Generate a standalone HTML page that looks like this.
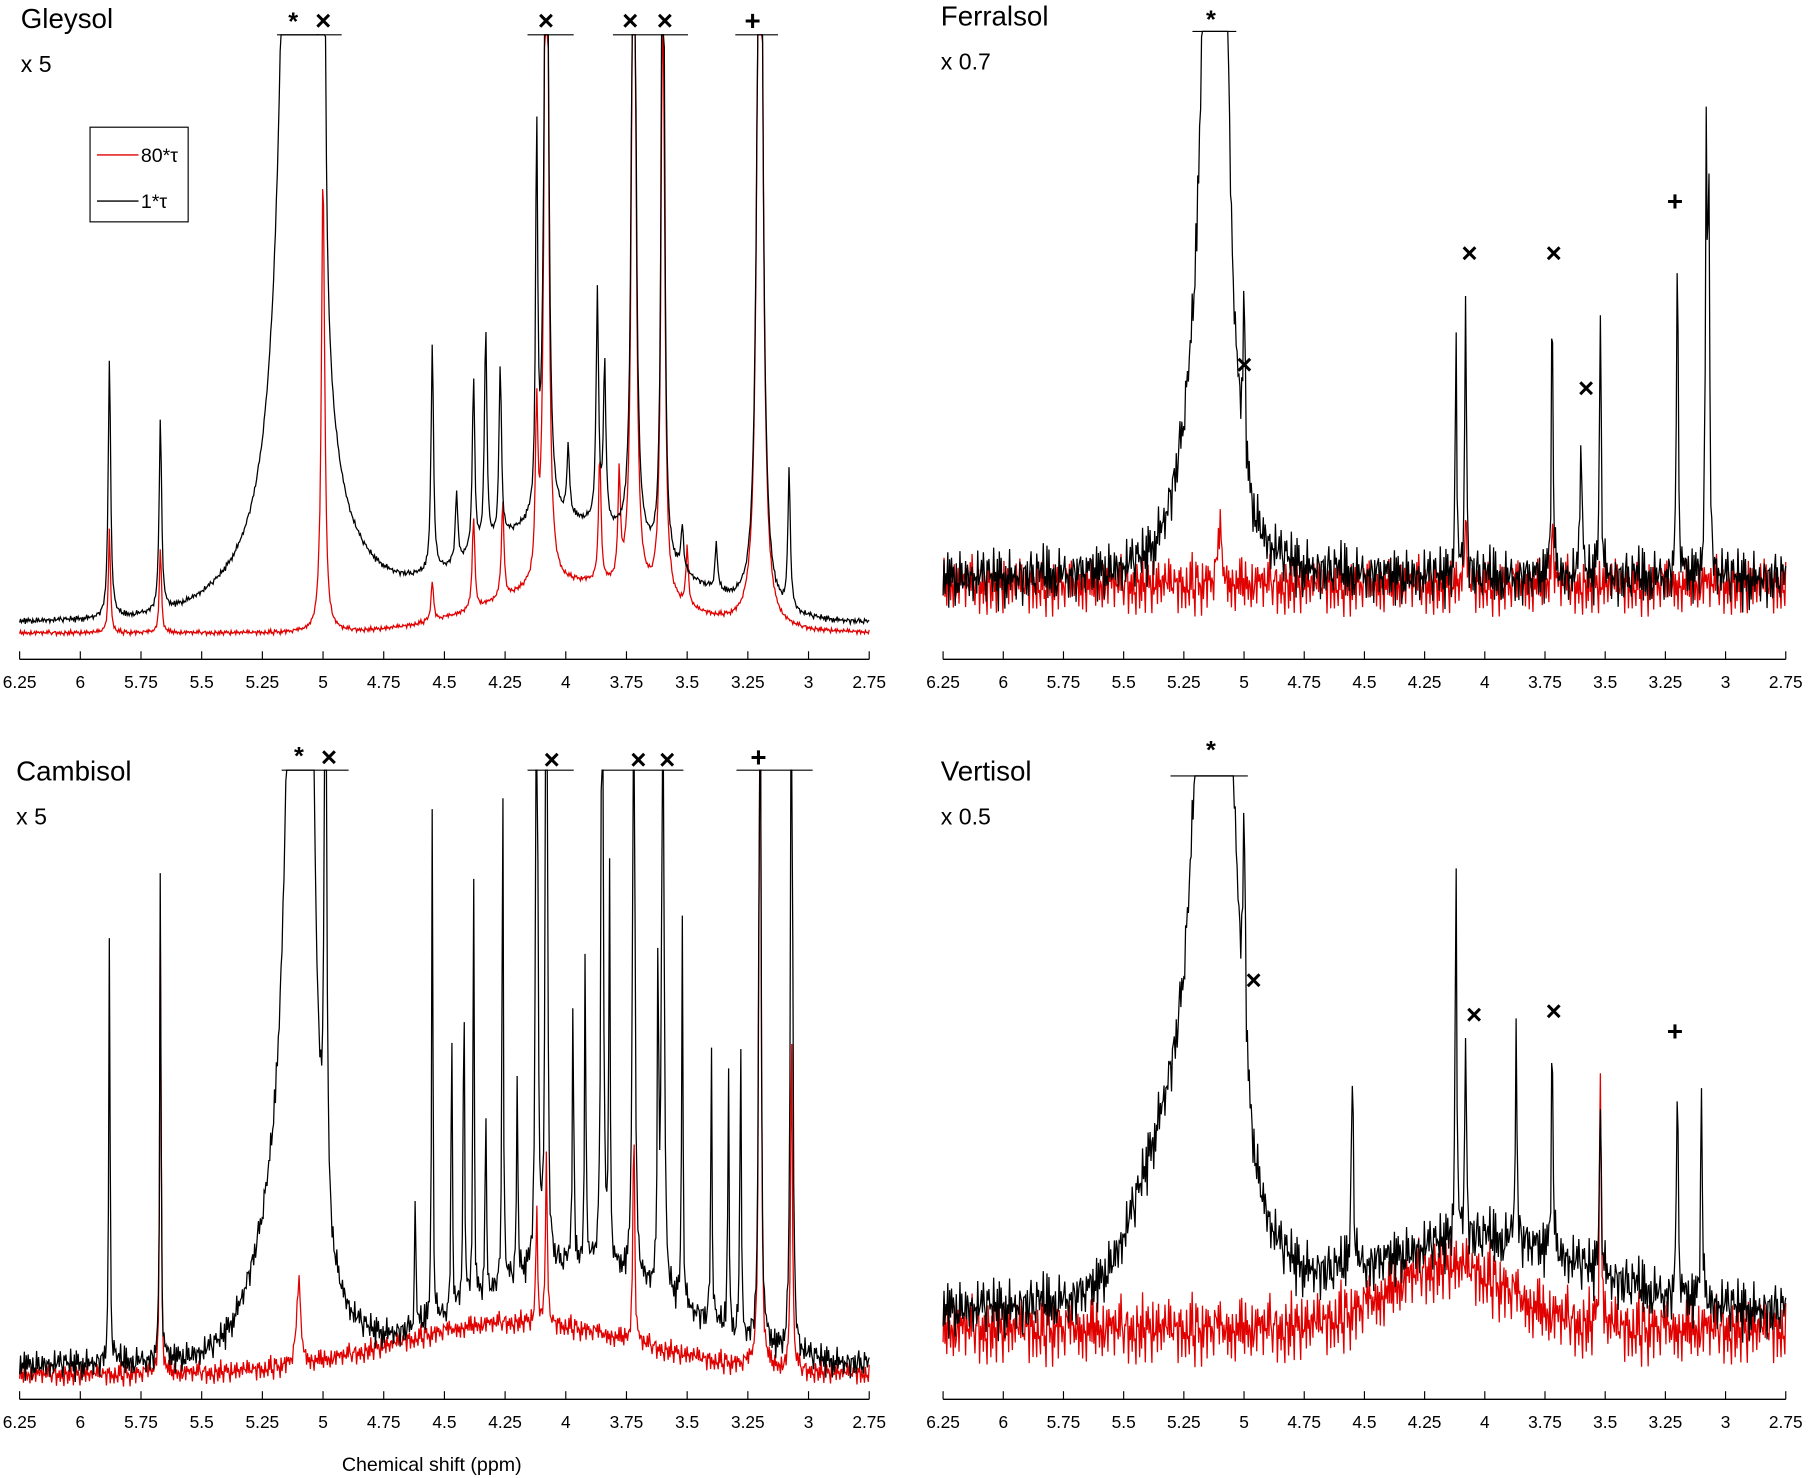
<!DOCTYPE html>
<html><head><meta charset="utf-8"><style>
html,body{margin:0;padding:0;background:#fff}
svg{display:block}
text{font-family:"Liberation Sans",sans-serif;fill:#000}
</style></head><body>
<svg id="chart" width="1810" height="1478" viewBox="0 0 1568 1280" xmlns="http://www.w3.org/2000/svg">
<g id="root"></g>
</svg>
<script>
// tick labels
const ticks = [6.25,6,5.75,5.5,5.25,5,4.75,4.5,4.25,4,3.75,3.5,3.25,3,2.75];
// noise template (hand-read amplitude pattern)
const noiseTpl = [0.3,-0.8,0.6,-0.2,0.9,-0.5,0.1,-0.9,0.7,0.2,-0.4,0.8,-0.7,0.4,-0.1,0.6,-0.6,0.95,-0.3,0.05,-0.85,0.5,0.25,-0.45,0.75,-0.65,0.15,-0.25,0.85,-0.55,0.35,-0.95,0.45,-0.15,0.65,-0.35,0.55,-0.75,0.1,0.9,-0.6,0.2,-0.05,0.7,-0.9,0.4,-0.3,0.8,-0.5,0.6,-0.2,0.3,-0.7];
// peaks: [ppm, height(px), halfwidth(ppm)]
const gleyBlackPeaks = [[5.88,225,0.006],[5.67,165,0.006],[5.1,3500,0.03],[5.0,900,0.006],[4.55,200,0.006],[4.45,60,0.006],[4.38,150,0.006],[4.33,190,0.006],[4.27,150,0.006],[4.12,330,0.005],[4.08,900,0.008],[3.99,60,0.006],[3.87,200,0.006],[3.84,140,0.006],[3.72,900,0.008],[3.6,900,0.006],[3.52,40,0.006],[3.38,40,0.006],[3.2,900,0.012],[3.08,120,0.006]];
const gleyBlackHump = [[4.0,85,0.55],[5.1,30,0.35]];
const gleyRedPeaks = [[5.88,90,0.005],[5.67,75,0.005],[5.0,400,0.008],[4.55,35,0.006],[4.38,80,0.006],[4.26,85,0.006],[4.12,140,0.006],[4.08,900,0.008],[3.86,110,0.006],[3.78,90,0.006],[3.72,900,0.008],[3.6,600,0.008],[3.5,50,0.006],[3.2,900,0.012]];
const gleyRedHump = [[3.95,42,0.5]];
const ferBlackPeaks = [[5.12,2500,0.025],[5.0,150,0.005],[4.12,200,0.004],[4.08,250,0.004],[3.72,255,0.004],[3.6,140,0.004],[3.52,255,0.004],[3.2,300,0.004],[3.08,360,0.004],[3.07,340,0.004]];
const ferBlackHump = [[5.2,60,0.12]];
const ferRedPeaks = [[5.1,45,0.01],[3.72,60,0.004],[4.08,60,0.004]];
const ferRedHump = [];
const camBlackPeaks = [[5.88,385,0.003],[5.67,430,0.003],[5.1,1500,0.035],[5.05,900,0.006],[4.99,900,0.004],[4.62,110,0.003],[4.55,470,0.003],[4.47,260,0.003],[4.42,310,0.003],[4.38,380,0.003],[4.33,180,0.003],[4.26,480,0.003],[4.2,180,0.003],[4.12,900,0.004],[4.08,900,0.004],[3.97,250,0.003],[3.92,280,0.003],[3.85,900,0.004],[3.82,360,0.003],[3.72,900,0.004],[3.62,300,0.003],[3.6,900,0.004],[3.52,350,0.003],[3.4,250,0.003],[3.33,230,0.003],[3.28,280,0.003],[3.2,900,0.004],[3.07,900,0.004]];
const camBlackHump = [[3.95,85,0.6],[5.2,60,0.15]];
const camRedPeaks = [[5.67,430,0.003],[5.1,70,0.01],[4.12,100,0.004],[4.08,150,0.004],[3.72,200,0.004],[3.2,900,0.004],[3.07,300,0.004]];
const camRedHump = [[4.2,45,0.7]];
const verBlackPeaks = [[5.12,1500,0.05],[5.0,200,0.006],[4.55,180,0.005],[4.12,320,0.004],[4.08,180,0.004],[3.87,190,0.004],[3.72,200,0.004],[3.52,170,0.004],[3.2,200,0.004],[3.1,200,0.004]];
const verBlackHump = [[5.3,110,0.2],[4.0,60,0.6]];
const verRedPeaks = [[3.52,230,0.004]];
const verRedHump = [[4.15,55,0.35]];

const panels = [
 {name:'gleysol',title:'Gleysol',scale:'x 5',x0:17,x1:753,axisY:571,tx:18,ty:24,clip:30,
  series:[[gleyRedPeaks,gleyRedHump,548,3,'#e00000'],[gleyBlackPeaks,gleyBlackHump,540,4,'#000']],
  clipLines:[[240,276],[274,296],[457,497],[531,575],[574,596],[637,674]],
  marks:[['*',254,18],['×',280,18],['×',473,18],['×',546,18],['×',576,18],['+',652,18]]},
 {name:'ferralsol',title:'Ferralsol',scale:'x 0.7',x0:817,x1:1547,axisY:571,tx:815,ty:22,clip:27,
  series:[[ferRedPeaks,ferRedHump,505,36,'#e00000'],[ferBlackPeaks,ferBlackHump,500,38,'#000']],
  clipLines:[[1033,1071]],
  marks:[['*',1049,16],['×',1078,316],['×',1273,219],['×',1346,219],['×',1374,336],['+',1451,174]]},
 {name:'cambisol',title:'Cambisol',scale:'x 5',x0:17,x1:753,axisY:1212,tx:14,ty:676,clip:667,
  series:[[camRedPeaks,camRedHump,1190,14,'#e00000'],[camBlackPeaks,camBlackHump,1183,20,'#000']],
  clipLines:[[244,302],[457,497],[521,592],[638,704]],
  marks:[['*',259,654],['×',285,656],['×',478,658],['×',553,658],['×',578,658],['+',657,656]]},
 {name:'vertisol',title:'Vertisol',scale:'x 0.5',x0:817,x1:1547,axisY:1212,tx:815,ty:676,clip:672,
  series:[[verRedPeaks,verRedHump,1150,42,'#e00000'],[verBlackPeaks,verBlackHump,1135,38,'#000']],
  clipLines:[[1014,1081]],
  marks:[['*',1049,649],['×',1086,849],['×',1277,879],['×',1346,876],['+',1451,893]]}
];
const NS='http://www.w3.org/2000/svg';
const root=document.getElementById('root');
function mk(tag,attrs,parent){const e=document.createElementNS(NS,tag);for(const k in attrs)e.setAttribute(k,attrs[k]);(parent||root).appendChild(e);return e;}
function xScale(p,ppm){return p.x0+(6.25-ppm)/3.5*(p.x1-p.x0);}
function signal(ppm,peaks,hump){let s=0;for(const [c,h,w] of peaks){const d=ppm-c;s+=h*w*w/(w*w+d*d);}for(const [c,h,w] of hump){const d=(ppm-c)/w;s+=h*Math.exp(-d*d);}return s;}
panels.forEach(p=>{
 const g=mk('g',{});
 
 
 p.series.forEach((s,si)=>{
  const [peaks,hump,base,namp,col]=s;
  const N=900;let pts=[];
  const L=noiseTpl.length;
  for(let i=0;i<=N;i++){
   const ppm=6.25-3.5*i/N;
   const n=namp*(0.5*noiseTpl[(i+si*11)%L]+0.3*noiseTpl[(i*7+si*5)%L]+0.2*noiseTpl[Math.floor(i/3+si*17)%L]);
   let y=base-signal(ppm,peaks,hump)+n;
   y=Math.max(p.clip,Math.min(p.axisY-2,y));
   pts.push(xScale(p,ppm).toFixed(1)+','+y.toFixed(1));
  }
  const pl=mk('polyline',{points:pts.join(' '),fill:'none',stroke:col,'stroke-width':1.1},g);
  
  
 });
 p.clipLines.forEach(([a,b])=>{const l=mk('line',{x1:a,x2:b,y1:p.clip,y2:p.clip,stroke:'#000','stroke-width':1},g);
  
  });
 const ax=mk('line',{x1:p.x0,x2:p.x1,y1:p.axisY,y2:p.axisY,stroke:'#000','stroke-width':1.2},g);
 
 
 ticks.forEach(t=>{const x=xScale(p,t);
  mk('line',{x1:x,x2:x,y1:p.axisY,y2:p.axisY-7,stroke:'#000','stroke-width':1},g);
  const tl=mk('text',{x:x,y:p.axisY+25,'text-anchor':'middle','font-size':15,fill:'#222'},g);
  tl.textContent=String(t);
  
  });
 const t1=mk('text',{x:p.tx,y:p.ty,'font-size':24},g);t1.textContent=p.title;
 
 
 const t2=mk('text',{x:p.tx,y:p.ty+38,'font-size':20},g);t2.textContent=p.scale;
 
 
 p.marks.forEach(([c,x,y])=>{const m=mk('text',{x:x,y:y+8,'text-anchor':'middle','font-size':c==='*'?22:24,'font-weight':'bold'},g);m.textContent=c;
  
  });
});
// legend
const lg=mk('g',{});


mk('rect',{x:78,y:110,width:85,height:82,fill:'#fff',stroke:'#000','stroke-width':1},lg);
mk('line',{x1:84,x2:120,y1:134,y2:134,stroke:'#e00000','stroke-width':1.2},lg);
mk('line',{x1:84,x2:120,y1:174,y2:174,stroke:'#000','stroke-width':1.2},lg);
const le1=mk('text',{x:122,y:140,'font-size':17},lg);le1.textContent='80*τ';


const le2=mk('text',{x:122,y:180,'font-size':17},lg);le2.textContent='1*τ';


const xt=mk('text',{x:374,y:1274,'text-anchor':'middle','font-size':17,fill:'#333'});xt.textContent='Chemical shift (ppm)';


</script>
</body></html>
